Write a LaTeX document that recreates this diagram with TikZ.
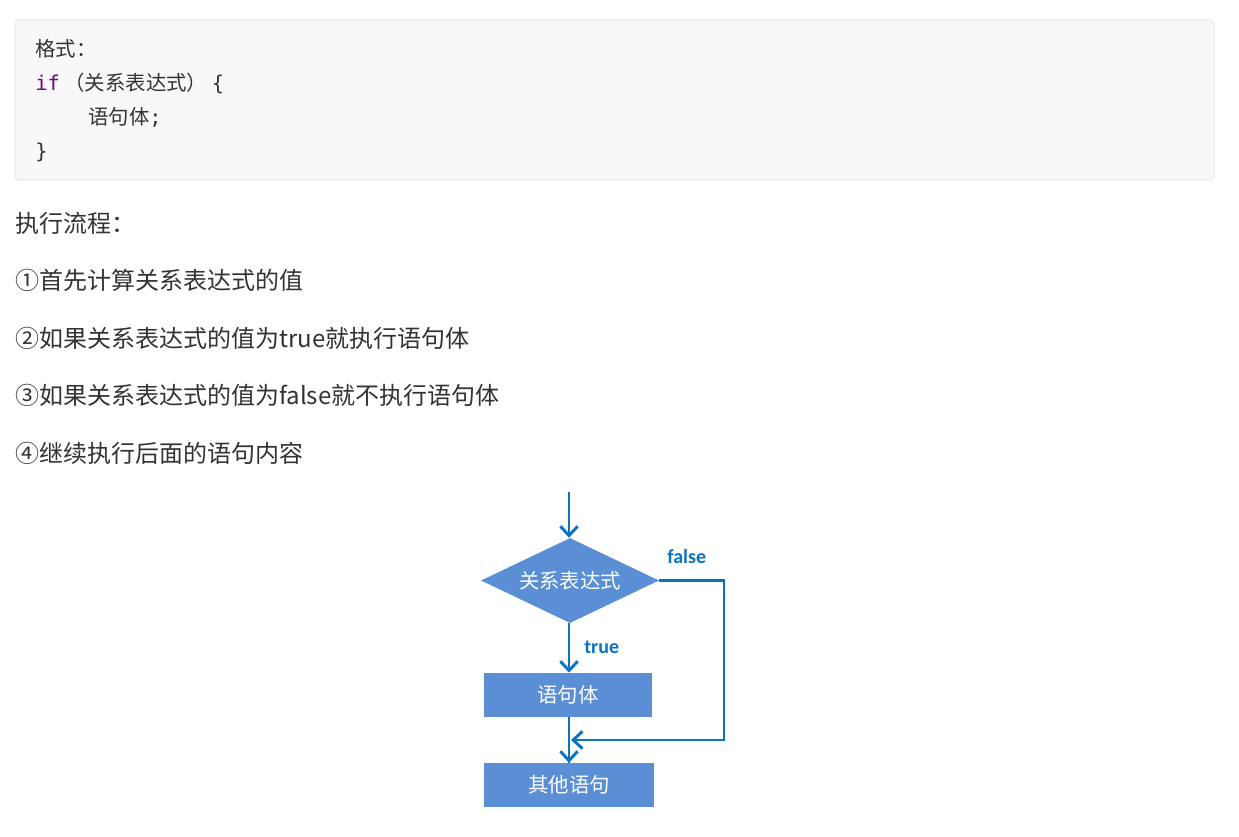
\documentclass[tikz,border=0pt]{standalone}
\usepackage{fontspec}
\setmainfont{Noto Sans CJK SC}
\newfontfamily\cjk{Noto Sans CJK SC}
\newfontfamily\monof{DejaVu Sans Mono}
\newfontfamily\labf{Carlito}
\usetikzlibrary{shapes.geometric,arrows.meta}
\definecolor{boxblue}{HTML}{5A8ED5}
\definecolor{lineblue}{HTML}{0A73C2}
\definecolor{txt}{HTML}{333333}
\definecolor{kw}{HTML}{770088}
\definecolor{codebg}{HTML}{F8F8F8}
\definecolor{codeborder}{HTML}{E6E8EA}
\tikzset{
  codebox/.style={draw=codeborder, fill=codebg, rounded corners=3pt, line width=0.75pt, inner sep=0pt},
  codeline/.style={anchor=base west, inner sep=0pt, text=txt, font=\cjk\fontsize{15.3}{18}\selectfont},
  bodyline/.style={anchor=base west, inner sep=0pt, text=txt, font=\cjk\fontsize{18}{22}\selectfont},
  decision/.style={diamond, fill=boxblue, draw=none, inner sep=0pt, aspect=2.09,
    minimum width=133.5pt, minimum height=63.75pt, text=white, font=\cjk\fontsize{15.3}{18}\selectfont},
  stmt/.style={rectangle, fill=boxblue, draw=none, inner sep=0pt, minimum height=33pt,
    text=white, font=\cjk\fontsize{15.3}{18}\selectfont},
  flow/.style={draw=lineblue, line width=2.2pt, -{Straight Barb[length=7pt,width=13pt,line width=2.2pt]}},
  flowline/.style={draw=lineblue, line width=2.2pt},
  lbl/.style={inner sep=0pt, text=lineblue, font=\labf\bfseries\fontsize{15}{18}\selectfont}
}
\begin{document}
\begin{tikzpicture}[x=0.75pt,y=-0.75pt]
\useasboundingbox (0,0) rectangle (1239,837);
\fill[white] (0,0) rectangle (1239,837);
% code block
\node[codebox, minimum width=899.25pt, minimum height=120pt] (code) at (614.5,100) {};
\node[codeline] (c1) at (35,57) {格式：};
\node[codeline] (c2) at (35,91) {{\monof\color{kw}if} （关系表达式） {\monof\{}};
\node[codeline] (c3) at (88,125) {语句体{\monof;}};
\node[codeline] (c4) at (35,159) {{\monof\}}};
% body text
\node[bodyline] (t0) at (15,233) {执行流程：};
\node[bodyline] (t1) at (15,290) {①首先计算关系表达式的值};
\node[bodyline] (t2) at (15,348) {②如果关系表达式的值为true就执行语句体};
\node[bodyline] (t3) at (15,405) {③如果关系表达式的值为false就不执行语句体};
\node[bodyline] (t4) at (15,463) {④继续执行后面的语句内容};
% flowchart
\coordinate (start) at (569,492);
\node[decision] (cond) at (570,580.5) {关系表达式};
\node[stmt, minimum width=126pt] (body) at (568,695) {语句体};
\node[stmt, minimum width=127.5pt] (next) at (569,785) {其他语句};
\coordinate (fr) at (724,580.5);
\coordinate (fb) at (724,740);
\coordinate (merge) at (571,740);
\draw[flow] (start) -- (start |- cond.north);
\draw[flow] (cond.south -| start) -- (start |- body.north);
\draw[flowline] (start |- body.south) -- (start |- next.north);
\draw[flow] (start |- next.north) ++(0,-16) -- (start |- next.north);
\draw[flow] (cond.east) -- (fr) -- (fb) -- (merge);
\node[lbl, anchor=west] (lf) at (667,557) {false};
\node[lbl, anchor=west] (lt) at (584,647) {true};
\end{tikzpicture}
\end{document}
